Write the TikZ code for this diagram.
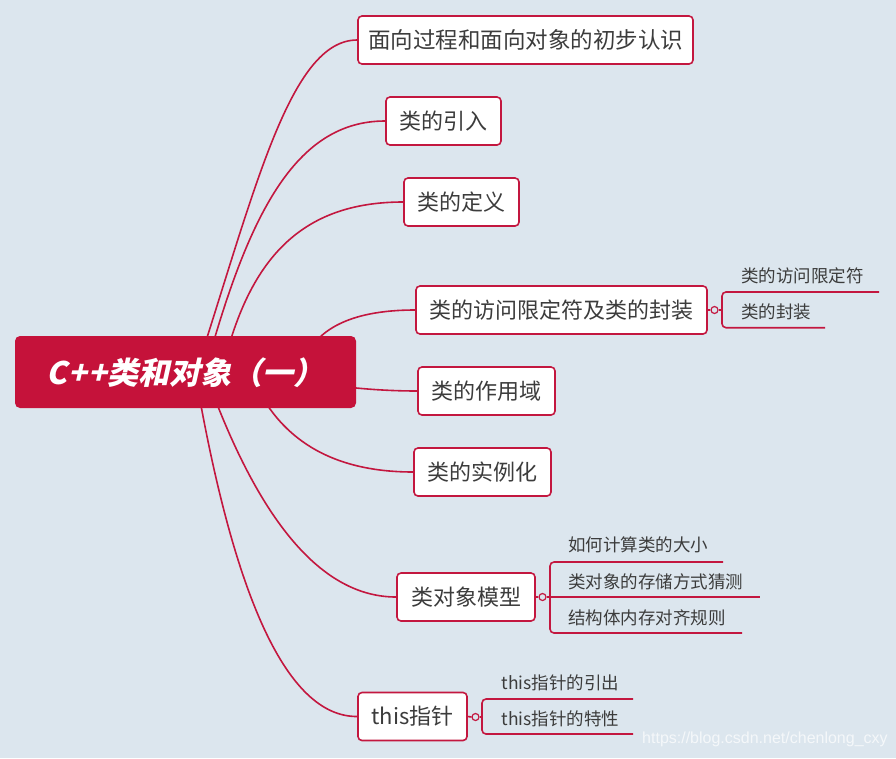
\documentclass[tikz,border=0pt]{standalone}
\usepackage{fontspec}
\newfontfamily\cjk{Noto Sans CJK SC}
\newfontfamily\wmfont{Liberation Sans}
\usetikzlibrary{calc}
\definecolor{bgc}{HTML}{DCE6EE}
\definecolor{crim}{HTML}{C3173F}
\definecolor{rootc}{HTML}{C5123A}
\definecolor{txt}{HTML}{3C3C3C}
\pgfdeclarelayer{bg}
\pgfdeclarelayer{lines}
\pgfsetlayers{bg,lines,main}
\tikzset{
  topic/.style={draw=crim, line width=1.6pt, fill=white, rounded corners=4pt,
    minimum height=48pt, inner sep=0pt, text=txt,
    font=\cjk\fontsize{22}{26}\selectfont, text height=18pt, text depth=2pt},
  sublabel/.style={anchor=west, inner sep=0pt, text=txt,
    font=\cjk\fontsize{17.5}{21}\selectfont},
  conn/.style={draw=crim, line width=1.6pt},
  knob/.style={circle, draw=crim, line width=1.2pt, fill=bgc, minimum size=7pt, inner sep=0pt},
}
\begin{document}
\begin{tikzpicture}[x=1pt, y=-1pt]
\useasboundingbox (0,0) rectangle (896,758);
\begin{pgfonlayer}{bg}
  \fill[bgc] (0,0) rectangle (896,758);
\end{pgfonlayer}

% root
\node[fill=rootc, rounded corners=5pt, minimum width=341pt, minimum height=72pt, inner sep=0pt] (root) at (185.5,372) {};
\begin{scope}[shift={(188,373)}, xslant=0.22]
  \node[transform shape, text=white, inner sep=0pt, font=\cjk\bfseries\fontsize{31}{35}\selectfont] (roottxt) at (0,0) {C\kern1.5pt+\kern1.5pt+类和对象（一）};
\end{scope}

% topics
\node[topic, minimum width=335pt, font=\cjk\fontsize{22.5}{27}\selectfont] (b1) at (525.5,40) {面向过程和面向对象的初步认识};
\node[topic, minimum width=115pt] (b2) at (443.5,121) {类的引入};
\node[topic, minimum width=115pt] (b3) at (461.5,202) {类的定义};
\node[topic, minimum width=291pt] (b4) at (561.5,310) {类的访问限定符及类的封装};
\node[topic, minimum width=137pt] (b5) at (486.5,391) {类的作用域};
\node[topic, minimum width=137pt] (b6) at (482.5,472) {类的实例化};
\node[topic, minimum width=138pt] (b7) at (466,597) {类对象模型};
\node[topic, minimum width=109pt] (b8) at (412.5,716.5) {this指针};

% start points of the branches (hidden behind the root)
\coordinate (s1) at (196,372);
\coordinate (s2) at (205,372);
\coordinate (s3) at (222,372);
\coordinate (s4) at (300,372);
\coordinate (s5) at (330,385);
\coordinate (s6) at (250,372);
\coordinate (s7) at (205,372);
\coordinate (s8) at (195,372);

\begin{pgfonlayer}{lines}
\draw[conn] (s1) .. controls (255,190) and (290,40) .. (b1.west);
\draw[conn] (s2) .. controls (248,215) and (295,121) .. (b2.west);
\draw[conn] (s3) .. controls (248,260) and (300,202) .. (b3.west);
\draw[conn] (s4) .. controls ($(s4)!0.667!(315,310)$) and ($(b4.west)!0.667!(315,310)$) .. (b4.west);
\draw[conn] (s5) .. controls ($(s5)!0.667!(375,391)$) and ($(b5.west)!0.667!(375,391)$) .. (b5.west);
\draw[conn] (s6) .. controls ($(s6)!0.667!(290,472)$) and ($(b6.west)!0.667!(290,472)$) .. (b6.west);
\draw[conn] (s7) .. controls ($(s7)!0.667!(285,597)$) and ($(b7.west)!0.667!(285,597)$) .. (b7.west);
\draw[conn] (s8) .. controls ($(s8)!0.667!(254,717)$) and ($(b8.west)!0.667!(254,717)$) .. (b8.west);
\end{pgfonlayer}

% sub topics of b4
\node[knob] (k4) at (714.5,310) {};
\draw[conn] (b4.east) -- (k4.west);
\coordinate (j4) at (722,310);
\draw[conn] (k4.east) -- (j4);
\node[sublabel] (l41) at (741,276) {类的访问限定符};
\node[sublabel] (l42) at (741,312) {类的封装};
\coordinate (e41) at (879,292);
\coordinate (e42) at (825,327.7);
\draw[conn, rounded corners=4pt] (e41) -- (j4 |- e41) -- (j4 |- e42) -- (e42);

% sub topics of b7
\node[knob] (k7) at (542.5,597) {};
\draw[conn] (b7.east) -- (k7.west);
\coordinate (j7) at (550,597);
\node[sublabel] (l71) at (568,545) {如何计算类的大小};
\node[sublabel] (l72) at (568,581.7) {类对象的存储方式猜测};
\node[sublabel] (l73) at (568,617.7) {结构体内存对齐规则};
\coordinate (e71) at (723,562);
\coordinate (e72) at (760,597);
\coordinate (e73) at (742,633);
\draw[conn] (k7.east) -- (e72);
\draw[conn, rounded corners=4pt] (e71) -- (j7 |- e71) -- (j7 |- e73) -- (e73);

% sub topics of b8
\node[knob] (k8) at (475.5,717) {};
\draw[conn] (b8.east) -- (k8.west);
\coordinate (j8) at (482,717);
\draw[conn] (k8.east) -- (j8);
\node[sublabel] (l81) at (501.5,683) {this指针的引出};
\node[sublabel] (l82) at (501.5,719) {this指针的特性};
\coordinate (e81) at (633,699);
\coordinate (e82) at (633,734);
\draw[conn, rounded corners=4pt] (e81) -- (j8 |- e81) -- (j8 |- e82) -- (e82);

% watermark
\node[anchor=west, inner sep=0pt, text=white, opacity=0.7, font=\wmfont\fontsize{16}{19}\selectfont] (wm) at (642,739) {https://blog.csdn.net/chenlong\_cxy};
\end{tikzpicture}
\end{document}
